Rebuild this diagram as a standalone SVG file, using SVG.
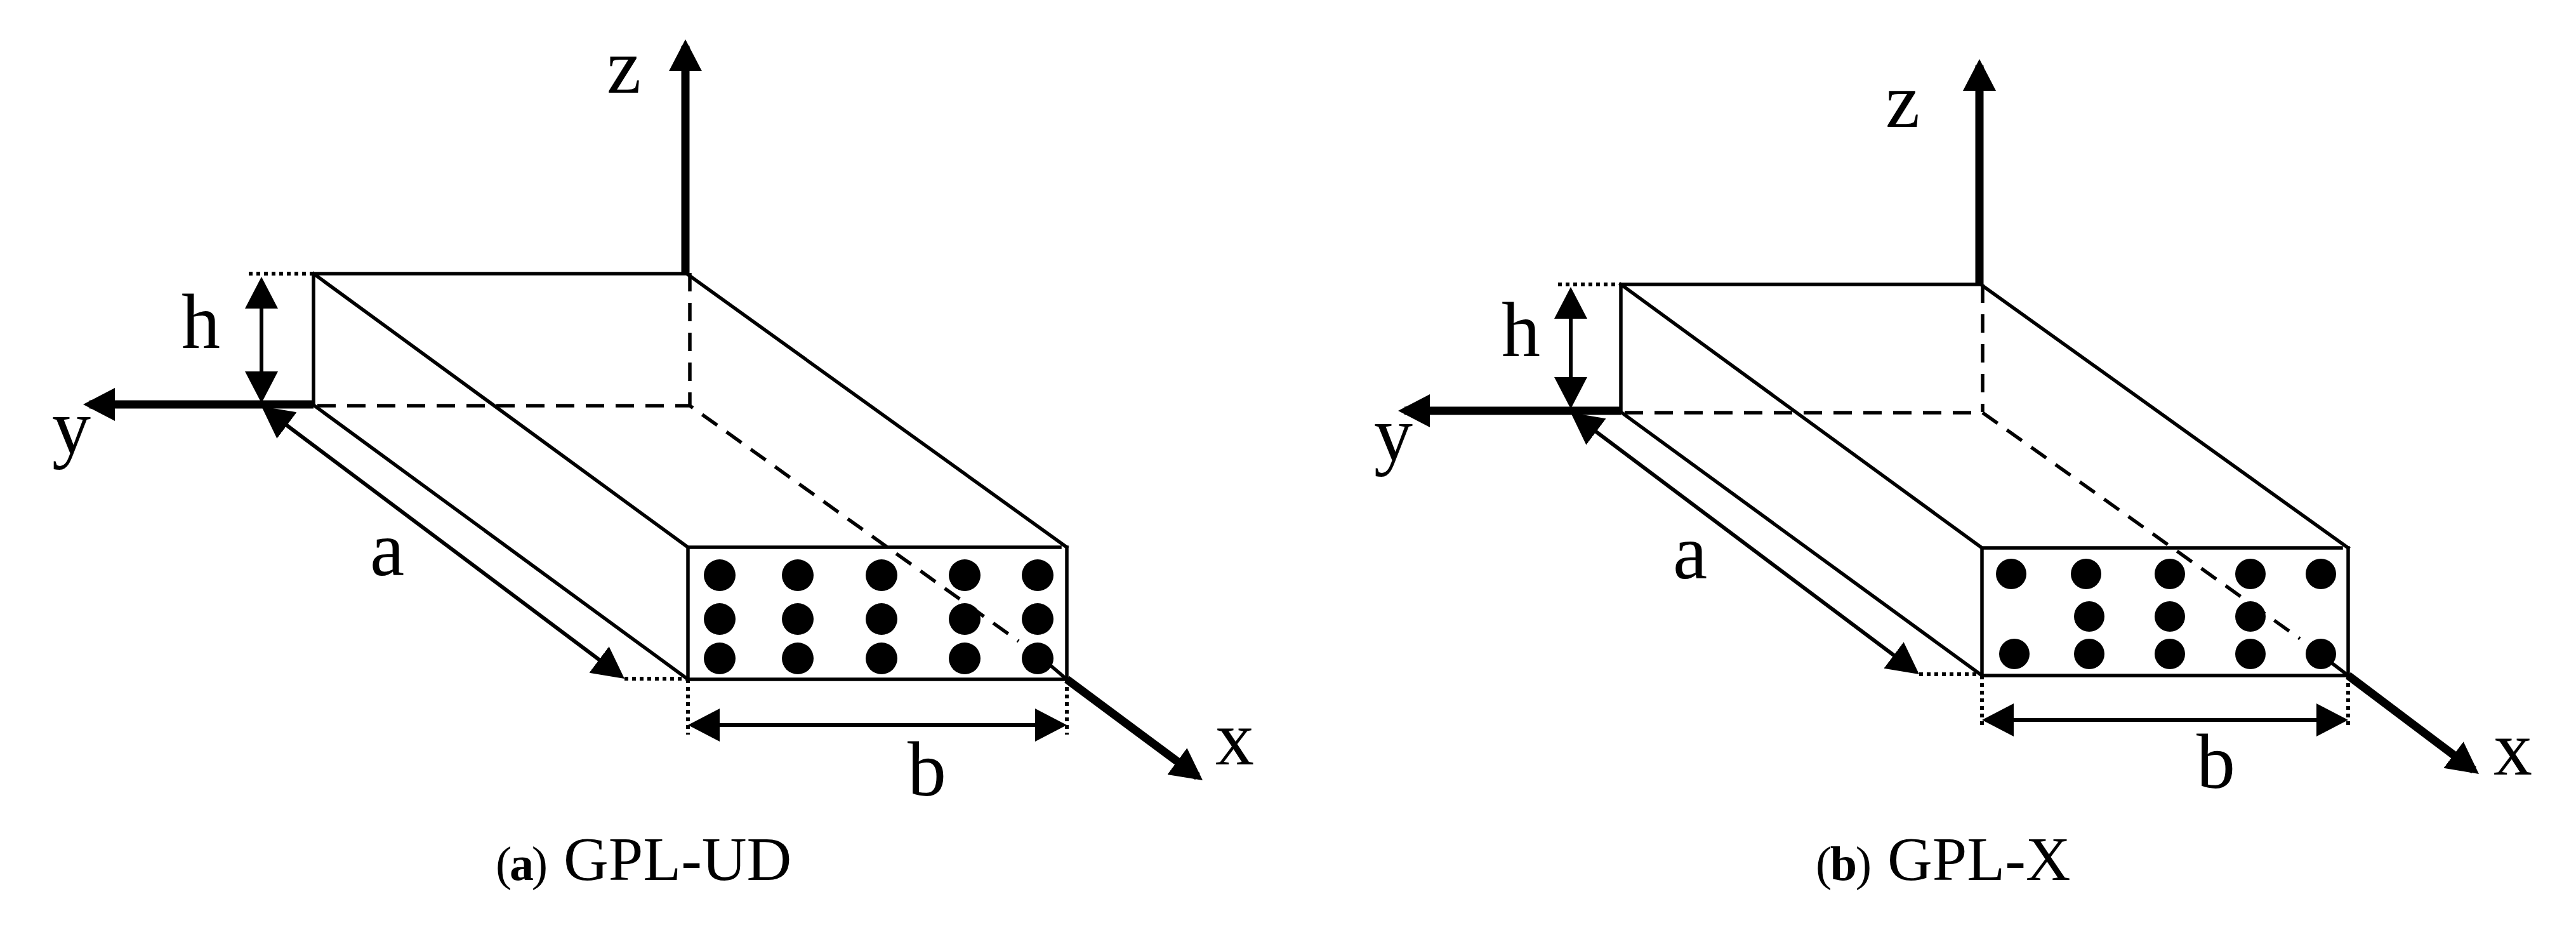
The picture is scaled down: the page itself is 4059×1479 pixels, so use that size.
<svg xmlns="http://www.w3.org/2000/svg" width="4059" height="1479" viewBox="0 0 4059 1479">
<style>
.e{stroke:#000;stroke-width:5.5;fill:none;stroke-linecap:square}
.d{stroke:#000;stroke-width:5.5;fill:none;stroke-dasharray:29 18}
.o{stroke:#000;stroke-width:6;fill:none;stroke-dasharray:6 6}
.t{stroke:#000;stroke-width:6;fill:none;marker-start:url(#h);marker-end:url(#h)}
.a{stroke:#000;stroke-width:13;fill:none;marker-end:url(#h)}
.l{font-family:"Liberation Serif",serif;font-size:122px;fill:#000}
.c{font-family:"Liberation Serif",serif;font-size:98px;fill:#000}
.n{font-family:"Liberation Serif",serif;font-size:76px;fill:#000}
.b{font-weight:bold}
.p{fill:#000}
</style>
<defs>
<marker id="h" markerUnits="userSpaceOnUse" markerWidth="52" markerHeight="54" viewBox="0 0 52 54" refX="40" refY="27" orient="auto-start-reverse"><path d="M0,1 L50,27 L0,53 z" fill="#000"/></marker>
</defs>
<rect width="4059" height="1479" fill="#fff"/>
<g id="panel-a">
<g id="a-box">
<path class="e" d="M494,431 H1082 L1681,862 M494,431 V638 M494,431 L1084,862 M494,638 L1084,1070 M1084,862 H1670 M1084,862 V1070 H1681 V862"/>
<path class="d" d="M1087,430 V638 M500,639 H1087 L1605,1010"/>
</g>
<g id="a-dots" class="p">
<circle cx="1134" cy="906" r="25"/><circle cx="1257" cy="906" r="25"/><circle cx="1389" cy="906" r="25"/><circle cx="1520" cy="906" r="25"/><circle cx="1635" cy="906" r="25"/>
<circle cx="1134" cy="975" r="25"/><circle cx="1257" cy="975" r="25"/><circle cx="1389" cy="975" r="25"/><circle cx="1520" cy="975" r="25"/><circle cx="1635" cy="975" r="25"/>
<circle cx="1134" cy="1037" r="25"/><circle cx="1257" cy="1037" r="25"/><circle cx="1389" cy="1037" r="25"/><circle cx="1520" cy="1037" r="25"/><circle cx="1635" cy="1037" r="25"/>
</g>
<g id="a-connectors">
<path class="o" d="M392,431 H494 M984,1069 H1084 M1084,1070 V1157 M1681,1070 V1157"/>
<path class="t" d="M412,446 V625"/>
<path class="t" d="M1094,1142 H1671"/>
<path class="t" d="M420,646 L976,1063"/>
<path class="a" d="M1080,430 V72"/>
<path class="a" d="M494,637 H141"/>
<path class="e" d="M1654,1047 L1681,1070"/>
<path class="a" d="M1681,1070 L1887,1223"/>
</g>
<text class="l" x="956" y="146">z</text>
<text class="l" x="286" y="548">h</text>
<text class="l" x="82" y="714">y</text>
<text class="l" x="583" y="906">a</text>
<text class="l" x="1430" y="1253">b</text>
<text class="l" x="1915" y="1204">x</text>
<text class="n" x="781" y="1386" textLength="82">(<tspan class="b">a</tspan>)</text>
<text class="c" x="888" y="1386">GPL-UD</text>
</g>
<g id="panel-b">
<g id="b-box">
<path class="e" d="M2554,448 H3121 L3700,863 M2554,448 V649 M2554,448 L3123,863 M2554,649 L3123,1064 M3123,863 H3689 M3123,863 V1064 H3700 V863"/>
<path class="d" d="M3124,448 V649 M2560,650 H3124 L3624,1006"/>
</g>
<g id="b-dots" class="p">
<circle cx="3169" cy="904" r="24"/><circle cx="3287" cy="904" r="24"/><circle cx="3419" cy="904" r="24"/><circle cx="3546" cy="904" r="24"/><circle cx="3657" cy="904" r="24"/>
<circle cx="3292" cy="971" r="24"/><circle cx="3419" cy="971" r="24"/><circle cx="3546" cy="971" r="24"/>
<circle cx="3174" cy="1030" r="24"/><circle cx="3292" cy="1030" r="24"/><circle cx="3419" cy="1030" r="24"/><circle cx="3546" cy="1030" r="24"/><circle cx="3657" cy="1030" r="24"/>
</g>
<g id="b-connectors">
<path class="o" d="M2455,448 H2554 M3024,1062 H3123 M3123,1064 V1148 M3700,1064 V1148"/>
<path class="t" d="M2475,462 V634"/>
<path class="t" d="M3133,1134 H3690"/>
<path class="t" d="M2483,656 L3016,1056"/>
<path class="a" d="M3119,448 V103"/>
<path class="a" d="M2554,647 H2213"/>
<path class="e" d="M3675,1045 L3700,1064"/>
<path class="a" d="M3700,1064 L3898,1213"/>
</g>
<text class="l" x="2971" y="200">z</text>
<text class="l" x="2366" y="561">h</text>
<text class="l" x="2165" y="725">y</text>
<text class="l" x="2636" y="911">a</text>
<text class="l" x="3461" y="1241">b</text>
<text class="l" x="3929" y="1220">x</text>
<text class="n" x="2861" y="1386" textLength="88">(<tspan class="b">b</tspan>)</text>
<text class="c" x="2974" y="1386">GPL-X</text>
</g>
</svg>
